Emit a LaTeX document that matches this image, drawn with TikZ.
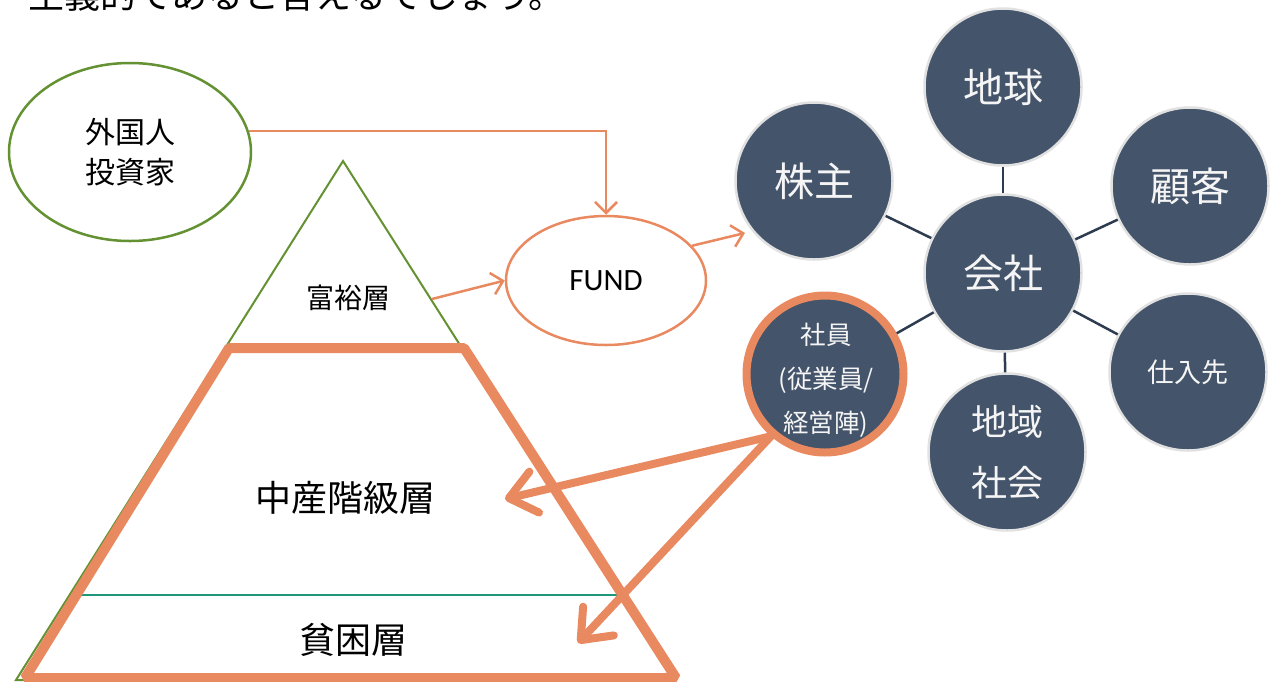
\documentclass[tikz,border=0pt]{standalone}
\usepackage{fontspec}
\setmainfont{Carlito}
\newfontfamily\jp{Noto Sans CJK JP}
\usetikzlibrary{arrows.meta,shapes.geometric,calc}
\definecolor{org}{RGB}{233,137,96}
\definecolor{grn}{RGB}{100,145,50}
\definecolor{tealline}{RGB}{30,150,120}
\definecolor{slate}{RGB}{68,84,106}
\definecolor{ringc}{RGB}{225,225,225}
\definecolor{conn}{RGB}{45,60,80}
\definecolor{wtxt}{RGB}{245,245,245}
\begin{document}
\begin{tikzpicture}[x=1pt,y=-1pt,
  bub/.style={circle,fill=slate,draw=ringc,line width=2.5pt,minimum size=157pt,inner sep=0pt,text=wtxt,align=center,font=\jp\fontsize{40}{44}\selectfont},
  thinarr/.style={draw=org,line width=2.5pt,-{Straight Barb[length=11pt,width=22pt]}},
  thickarr/.style={draw=org,line width=8pt,line cap=round,-{Straight Barb[length=26pt,width=42pt,round]}},
  lbl/.style={inner sep=0pt,align=center},
  connline/.style={draw=conn,line width=2.5pt}]
\useasboundingbox (0,0) rectangle (1277,681);
\clip (0,0) rectangle (1277,681);
% top cut-off sentence
\node[anchor=base west,inner sep=0pt,font=\jp\fontsize{36}{40}\selectfont] (top) at (28,8) {主義的であると言えるでしょう。};
% investor ellipse
\node[ellipse,draw=grn,line width=2.5pt,minimum width=242pt,minimum height=178pt,inner sep=0pt,align=center,font=\jp\fontsize{30}{40}\selectfont] (inv) at (130,152) {外国人\\投資家};
% pyramid
\draw[grn,line width=2pt] (343,161) -- (16,680) -- (673,680) -- cycle;
\draw[tealline,line width=2.5pt] (80,595) -- (618,595);
\draw[org,line width=10pt,line join=bevel] (25,678) -- (229,348) -- (464,348) -- (676,678) -- cycle;
\node[lbl,font=\jp\fontsize{28}{32}\selectfont] (rich) at (348,298) {富裕層};
\node[lbl,font=\jp\fontsize{36}{40}\selectfont] (middle) at (345,498) {中産階級層};
\node[lbl,font=\jp\fontsize{36}{40}\selectfont] (poor) at (353,640) {貧困層};
% FUND
\node[ellipse,draw=org,line width=2.5pt,minimum width=200pt,minimum height=129pt,inner sep=0pt,font=\fontsize{31}{36}\selectfont] (fund) at (606,280.5) {FUND};
% bubbles
\node[bub] (kaisha) at (1003,273) {会社};
\node[bub] (chikyu) at (1003,87) {地球};
\node[bub] (kabu) at (814,181) {株主};
\node[bub] (kokyaku) at (1190,186) {顧客};
\node[bub,font=\jp\fontsize{27}{30}\selectfont] (shiire) at (1188,372) {仕入先};
\node[bub,font=\jp\fontsize{36}{61}\selectfont] (chiiki) at (1007,452) {地域\\社会};
\node[bub,draw=org,line width=8pt] (shain) at (825,374) {};
\node[lbl,text=wtxt,font=\jp\fontsize{25.5}{44}\selectfont] (shaintext) at (826,380) {社員\\(従業員/\\経営陣)};
\foreach \n in {chikyu,kabu,kokyaku,shiire,chiiki,shain} \draw[connline] (kaisha) -- (\n);
% arrows
\coordinate (tri) at (432,299);
\coordinate (kbend) at (745,233);
\coordinate (t1) at (505,499);
\coordinate (t2) at (578,643);
\draw[thinarr] (tri) -- (fund.west);
\draw[thinarr] (inv.10) -| (fund.north);
\draw[thinarr] (fund.22) -- (kbend);
\draw[thickarr] (shain.229) -- (t1);
\draw[thickarr] (shain.229) -- (t2);
\end{tikzpicture}
\end{document}
